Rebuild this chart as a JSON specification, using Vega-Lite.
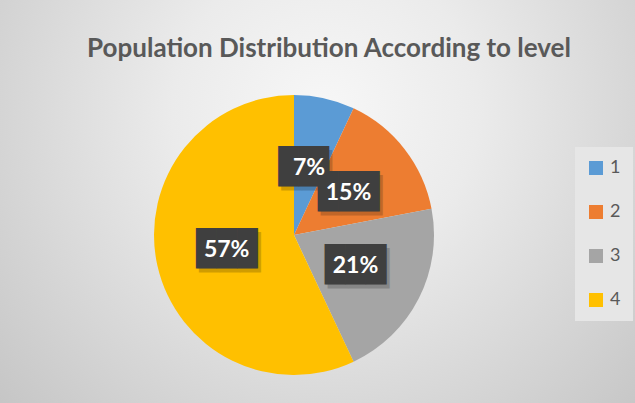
{
  "$schema": "https://vega.github.io/schema/vega-lite/v6.json",
  "width": 280,
  "height": 280,
  "autosize": "none",
  "padding": {"left": 154, "top": 95, "right": 201, "bottom": 28},
  "background": "#d8d8d8",
  "title": {
    "text": "Population Distribution According to level",
    "anchor": "middle",
    "frame": "group",
    "offset": -247,
    "dx": 35,
    "font": "Lato",
    "fontSize": 26,
    "fontWeight": "bold",
    "color": "#595959"
  },
  "data": {
    "values": [
      {"level": "1", "share": 0.07},
      {"level": "2", "share": 0.15},
      {"level": "3", "share": 0.21},
      {"level": "4", "share": 0.57}
    ]
  },
  "layer": [
    {
      "data": {"values": [{"bg": 1}]},
      "mark": {
        "type": "arc",
        "radius": 420,
        "fill": {
          "gradient": "radial",
          "x1": 0.537, "y1": 0.35, "r1": 0,
          "x2": 0.537, "y2": 0.35, "r2": 0.52,
          "stops": [
            {"offset": 0, "color": "#f7f7f7"},
            {"offset": 0.35, "color": "#ebebeb"},
            {"offset": 1, "color": "#c6c6c6"}
          ]
        }
      },
      "encoding": {}
    },
    {
      "mark": {"type": "arc"},
      "encoding": {
        "theta": {"field": "share", "type": "quantitative", "stack": true},
        "order": {"field": "level", "type": "ordinal"},
        "color": {
          "field": "level",
          "type": "nominal",
          "scale": {"domain": ["1", "2", "3", "4"], "range": ["#5B9BD5", "#ED7D31", "#A5A5A5", "#FFC000"]},
          "legend": {
            "title": null,
            "orient": "none",
            "legendX": 421,
            "legendY": 52,
            "fillColor": "#e6e6e6",
            "padding": 12,
            "rowPadding": 26,
            "symbolType": "square",
            "symbolSize": 196,
            "symbolStrokeWidth": 0,
            "labelFont": "Lato",
            "labelFontSize": 18,
            "labelColor": "#595959",
            "labelOffset": 5
          }
        }
      }
    },
    {
      "mark": {"type": "text", "radius": 69, "font": "DejaVu Sans Mono", "fontSize": 34, "dx": 3, "dy": 4, "color": "#000000", "opacity": 0.18},
      "encoding": {
        "theta": {"field": "share", "type": "quantitative", "stack": true},
        "order": {"field": "level", "type": "ordinal"},
        "detail": {"field": "level", "type": "nominal"},
        "text": {"condition": {"test": "datum.share < 0.1", "value": "██▌"}, "value": "███"}
      }
    },
    {
      "mark": {"type": "text", "radius": 69, "font": "DejaVu Sans Mono", "fontSize": 34, "color": "#3f3f3f"},
      "encoding": {
        "theta": {"field": "share", "type": "quantitative", "stack": true},
        "order": {"field": "level", "type": "ordinal"},
        "detail": {"field": "level", "type": "nominal"},
        "text": {"condition": {"test": "datum.share < 0.1", "value": "██▌"}, "value": "███"}
      }
    },
    {
      "mark": {"type": "text", "radius": 69, "font": "Lato", "fontSize": 23, "fontWeight": "bold", "color": "#ffffff"},
      "encoding": {
        "theta": {"field": "share", "type": "quantitative", "stack": true},
        "order": {"field": "level", "type": "ordinal"},
        "detail": {"field": "level", "type": "nominal"},
        "text": {"field": "share", "type": "quantitative", "format": ".0%"}
      }
    }
  ],
  "config": {"view": {"stroke": null}}
}
